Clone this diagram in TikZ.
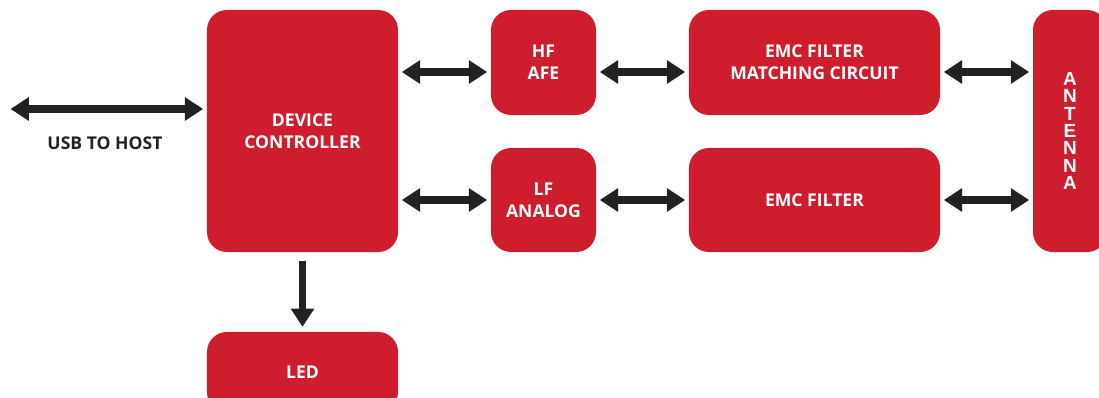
\documentclass[tikz,border=0pt]{standalone}
\usepackage{fontspec}
\setsansfont{Open Sans}
\newfontfamily\antfont{Liberation Sans}
\usetikzlibrary{arrows.meta}
\definecolor{boxred}{RGB}{206,30,45}
\definecolor{arrowgray}{RGB}{34,34,34}
\tikzset{
  block/.style={fill=boxred, rounded corners=0.5cm, inner sep=0pt, align=center,
    text=white, font=\sffamily\bfseries\fontsize{12.5}{15.5}\selectfont},
  biarrow/.style={{Triangle[length=13pt,width=16pt]}-{Triangle[length=13pt,width=16pt]},
    line width=5pt, draw=arrowgray, shorten <=2.5pt, shorten >=2.5pt},
  downarrow/.style={-{Triangle[length=13pt,width=16pt]},
    line width=5pt, draw=arrowgray, shorten <=6pt, shorten >=3.5pt}
}
\begin{document}
\begin{tikzpicture}[x=0.025cm, y=-0.025cm]
  \useasboundingbox (0,0) rectangle (1099,397);
  \clip (0,0) rectangle (1099,397);

  % blocks
  \node[block, minimum width=4.775cm, minimum height=6.05cm] (dc) at (302.5,131) {DEVICE\\CONTROLLER};
  \node[block, minimum width=4.775cm, minimum height=2cm] (led) at (302.5,372) {LED};
  \node[block, minimum width=2.625cm, minimum height=2.625cm] (hf) at (543.5,62.5) {HF\\AFE};
  \node[block, minimum width=2.625cm, minimum height=2.6cm] (lf) at (543.5,200) {LF\\ANALOG};
  \node[block, minimum width=6.275cm, minimum height=2.625cm] (emcm) at (814.5,62.5) {EMC FILTER\\MATCHING CIRCUIT};
  \node[block, minimum width=6.275cm, minimum height=2.6cm] (emc) at (814.5,200) {EMC FILTER};
  \node[block, minimum width=1.85cm, minimum height=6.05cm,
    font=\antfont\bfseries\fontsize{13.5}{12.4}\selectfont] (ant) at (1070,131) {A\\N\\T\\E\\N\\N\\A};

  \node[font=\sffamily\bfseries\fontsize{12.5}{15.5}\selectfont, text=arrowgray] (usb) at (105,143) {USB TO HOST};

  % connectors
  \coordinate (host) at (7,109);
  \coordinate (hfrow) at (0,72);
  \draw[biarrow] (host) -- (dc.west |- host);
  \draw[biarrow] (dc.east |- hfrow) -- (hf.west |- hfrow);
  \draw[biarrow] (hf.east |- hfrow) -- (emcm.west |- hfrow);
  \draw[biarrow] (emcm.east |- hfrow) -- (ant.west |- hfrow);
  \draw[biarrow] (dc.east |- lf.west) -- (lf.west);
  \draw[biarrow] (lf.east) -- (emc.west);
  \draw[biarrow] (emc.east) -- (ant.west |- emc.east);
  \draw[downarrow] (dc.south) -- (led.north);
\end{tikzpicture}
\end{document}
